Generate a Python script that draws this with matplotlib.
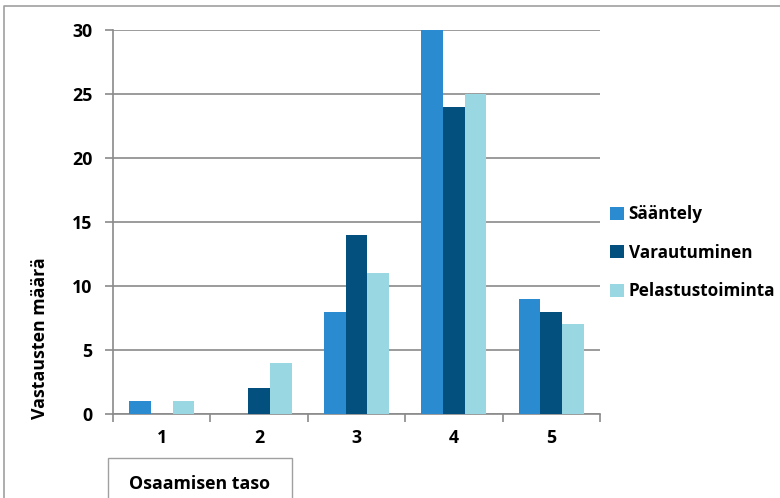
import numpy as np
import matplotlib.pyplot as plt
from matplotlib.lines import Line2D
from matplotlib.patches import Rectangle

# arvot luettu kuvasta
tasot = ['1', '2', '3', '4', '5']
saantely = [1, 0, 8, 30, 9]
varautuminen = [0, 2, 14, 24, 8]
pelastus = [1, 4, 11, 25, 7]
sarjat = ['Sääntely', 'Varautuminen', 'Pelastustoiminta']
varit = ['#2a8bd0', '#03507f', '#99d7e2']

plt.rcParams['font.family'] = ['Open Sans', 'DejaVu Sans']
plt.rcParams['font.weight'] = 'bold'
harmaa = '#8a8a8a'
fs = 12.8

fig = plt.figure(figsize=(7.8, 4.98), dpi=100)
ax = fig.add_axes([113 / 780, 1 - 414 / 498, 487 / 780, 384 / 498])

x = np.arange(len(tasot))
w = 1 / 4.5
for i, (arvot, nimi) in enumerate(zip([saantely, varautuminen, pelastus], sarjat)):
    ax.bar(x + (i - 1) * w, arvot, w, color=varit[i], label=nimi, zorder=3)

ax.set_xlim(-0.5, 4.5)
ax.set_ylim(0, 30)
ax.set_yticks(range(0, 31, 5))
ax.yaxis.grid(True, color=harmaa, lw=1.2, zorder=0)
ax.set_xticks(np.arange(-0.5, 5, 1))
ax.set_xticklabels([])
ax.set_xticks(x, minor=True)
ax.set_xticklabels(tasot, minor=True, fontsize=fs, fontweight='bold')
ax.tick_params(axis='x', which='minor', length=0, pad=11)
ax.tick_params(axis='x', which='major', length=6, color=harmaa, width=1.2, direction='out')
ax.tick_params(axis='y', length=6, color=harmaa, width=1.2, labelsize=fs, pad=9)
for t in ax.get_yticklabels():
    t.set_fontweight('bold')
for s in ['top', 'right']:
    ax.spines[s].set_visible(False)
for s in ['left', 'bottom']:
    ax.spines[s].set_color(harmaa)
    ax.spines[s].set_linewidth(1.2)

fig.text(40 / 780, 1 - 338 / 498, 'Vastausten määrä', rotation=90,
         ha='center', va='center', fontsize=fs, fontweight='bold')

ax.legend(loc='center left', bbox_to_anchor=(1.0, 0.42), frameon=False,
          prop={'size': 12.3, 'weight': 'bold'}, handlelength=0.78,
          handleheight=0.78, handletextpad=0.3, labelspacing=1.2,
          borderaxespad=0.2)

# akselin otsikko laatikossa
fig.patches.append(Rectangle((108 / 780, -0.01), 184 / 780, 40 / 498 + 0.01, transform=fig.transFigure,
                             fill=False, edgecolor='#a0a0a0', lw=1))
fig.text(200 / 780, 1 - 484 / 498, 'Osaamisen taso', ha='center', va='center',
         fontsize=fs, fontweight='bold')

# ulkoreunus: vain vasen ja ylä
y0 = 1 - 6 / 498
x0 = 4 / 780
fig.lines.append(Line2D([x0, x0, 1.01], [-0.01, y0, y0], transform=fig.transFigure,
                        color='#a0a0a0', lw=1.2))

fig.savefig('out.png', dpi=100)
